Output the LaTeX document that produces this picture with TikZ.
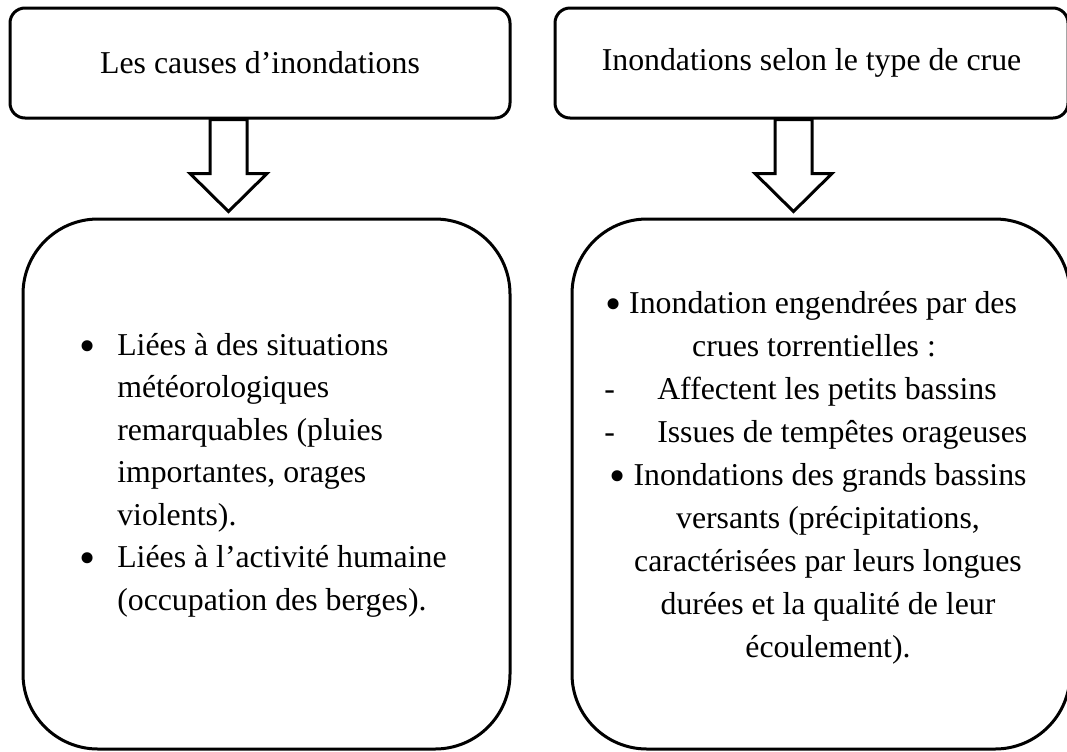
\documentclass[tikz,border=0pt]{standalone}
\usepackage{fontspec}
\setmainfont{Liberation Serif}
\newcommand{\puce}{\raisebox{-4.5pt}{\scalebox{1.45}{•}}}
\begin{document}
\begin{tikzpicture}[x=0.75pt,y=-0.75pt,
  titre/.style={draw,line width=2.25pt,rounded corners=11.25pt,minimum height=82.5pt,
    font=\fontsize{23.85pt}{32pt}\selectfont},
  cadre/.style={draw,line width=2.25pt,rounded corners=56.25pt,minimum height=397.5pt},
  fleche/.style={draw,line width=2.25pt,fill=white,line join=miter}]
  \useasboundingbox (0,0) rectangle (1067,751);
  % les cadres
  \node[titre,minimum width=375pt] (causes) at (260,63) {Les causes d’inondations};
  \node[titre,minimum width=384.75pt] (types) at (811.5,63) {Inondations selon le type de crue};
  \node[cadre,minimum width=365.25pt] (liste1) at (266.5,484) {};
  \node[cadre,minimum width=373.5pt] (liste2) at (821,484) {};
  % les fleches
  \coordinate (f1) at (causes.south -| 228.5,0);
  \coordinate (f2) at (types.south -| 793.5,0);
  \foreach \f in {f1,f2}
    \draw[fleche] (\f) ++(-18.5,0) -- ++(0,54) -- ++(-20,0) -- ++(38.5,38)
      -- ++(38.5,-38) -- ++(-20,0) -- ++(0,-54) -- cycle;
  % le texte
  \begin{scope}[every node/.style={font=\fontsize{23.85pt}{32pt}\selectfont,inner sep=0pt,anchor=base west}]
    \node[anchor=base] (b1) at (88,355) {\puce};
    \node (l1) at (117,355) {Liées à des situations};
    \node (l2) at (117,397.5) {météorologiques};
    \node (l3) at (117,440) {remarquables (pluies};
    \node (l4) at (117,482.5) {importantes, orages};
    \node (l5) at (117,525) {violents).};
    \node[anchor=base] (b2) at (88,567.5) {\puce};
    \node (l6) at (117,567.5) {Liées à l’activité humaine};
    \node (l7) at (117,610) {(occupation des berges).};
    \node[anchor=base] (r1) at (811,313) {\puce\ Inondation engendrées par des};
    \node[anchor=base] (r2) at (814,356) {crues torrentielles :};
    \node (t1) at (604,399) {-};
    \node (r3) at (657,399) {Affectent les petits bassins};
    \node (t2) at (604,442) {-};
    \node (r4) at (657,442) {Issues de tempêtes orageuses};
    \node[anchor=base] (r5) at (818,485) {\puce\ Inondations des grands bassins};
    \node[anchor=base] (r6) at (828,528) {versants (précipitations,};
    \node[anchor=base] (r7) at (828,571) {caractérisées par leurs longues};
    \node[anchor=base] (r8) at (828,614) {durées et la qualité de leur};
    \node[anchor=base] (r9) at (828,657) {écoulement).};
  \end{scope}
\end{tikzpicture}
\end{document}
